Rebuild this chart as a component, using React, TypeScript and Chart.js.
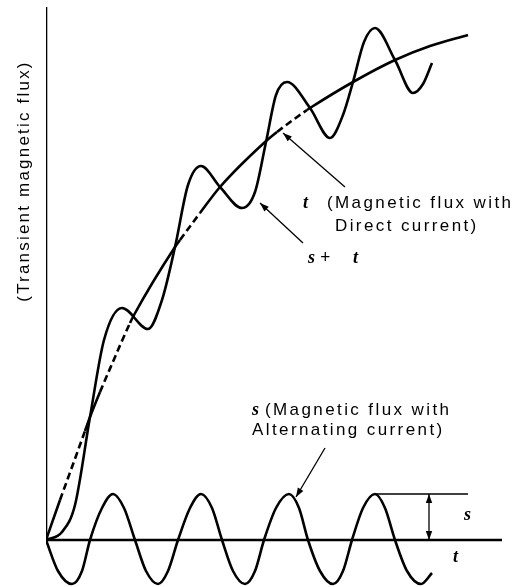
import { useEffect, useRef } from "react";
import { Chart, registerables } from "chart.js";

Chart.register(...registerables);

// Time axis (arbitrary units) and flux values
const acX = [0, 12, 26, 36, 44, 56, 67, 78, 89, 100, 112, 122, 132, 144, 155, 166, 176, 187, 199, 209, 218, 230, 243, 253, 262, 274, 287, 297, 306, 317, 329, 339, 349, 361, 375, 386];
const acY = [0, -31, -44, -31, 0, 32, 46, 32, 0, -31, -44, -31, 0, 32, 46, 32, 0, -31, -44, -31, 0, 32, 46, 32, 0, -31, -44, -31, 0, 32, 46, 32, 0, -31, -44, -33];

const dcX = [0, 14, 22, 39, 44, 54, 66, 84, 88, 129, 134, 154, 174, 219, 231, 261, 264, 307, 349, 384, 422];
const dcY = [0, 40, 62, 109, 123, 148, 176, 217, 225, 293, 300, 327, 353, 398, 408, 430, 432, 458, 480, 494, 505];

const sumX = [0, 16, 29, 44, 58, 76, 102, 116, 129, 142, 155, 174, 196, 209, 220, 230, 241, 264, 284, 297, 307, 318, 329, 349, 367, 377, 386];
const sumY = [0, 8, 35, 123, 200, 232, 211, 240, 293, 355, 374, 353, 332, 348, 398, 445, 458, 432, 402, 425, 458, 498, 512, 480, 447, 456, 477];

// portions of the DC curve drawn dashed (x ranges)
const dcDashed = [[14, 39], [54, 84], [134, 154], [231, 261]];

const axisXmax = 456;
const axisYmax = 533;
const acPeak = 46;

const toPts = (xs: number[], ys: number[]) => xs.map((x, i) => ({ x, y: ys[i] }));

const SANS = '"Liberation Sans", Arial, Helvetica, sans-serif';
const SERIF = '"Liberation Serif", "Times New Roman", serif';

type Arrow = { from: [number, number]; to: [number, number]; both?: boolean };
const arrows: Arrow[] = [
  { from: [299, 353], to: [237, 407] },
  { from: [257, 297], to: [214, 337] },
  { from: [279, 92], to: [250, 43] },
  { from: [383, acPeak], to: [383, 0], both: true },
];

type Label = { text: string; x: number; y: number; italic?: boolean };
const labels: Label[] = [
  { text: "t", x: 257, y: 337, italic: true },
  { text: "(Magnetic flux with", x: 281, y: 337 },
  { text: "Direct current)", x: 289, y: 314 },
  { text: "s", x: 262, y: 282, italic: true },
  { text: "+", x: 274, y: 282, italic: true },
  { text: "t", x: 307, y: 282, italic: true },
  { text: "s", x: 206, y: 130, italic: true },
  { text: "(Magnetic flux with", x: 219, y: 130 },
  { text: "Alternating current)", x: 206, y: 110 },
  { text: "s", x: 418, y: 25, italic: true },
  { text: "t", x: 407, y: -17, italic: true },
];

const annotPlugin = {
  id: "annot",
  afterDatasetsDraw(chart: any) {
    const ctx: CanvasRenderingContext2D = chart.ctx;
    const xs = chart.scales.x;
    const ys = chart.scales.y;
    const px = (v: number) => xs.getPixelForValue(v);
    const py = (v: number) => ys.getPixelForValue(v);
    ctx.save();
    ctx.strokeStyle = "#000";
    ctx.fillStyle = "#000";

    // peak reference line
    ctx.lineWidth = 1.6;
    ctx.beginPath();
    ctx.moveTo(px(329), py(acPeak));
    ctx.lineTo(px(422), py(acPeak));
    ctx.stroke();

    const head = (x1: number, y1: number, x2: number, y2: number) => {
      const a = Math.atan2(y2 - y1, x2 - x1);
      const L = 9, W = 3.2;
      ctx.beginPath();
      ctx.moveTo(x2, y2);
      ctx.lineTo(x2 - L * Math.cos(a) + W * Math.sin(a), y2 - L * Math.sin(a) - W * Math.cos(a));
      ctx.lineTo(x2 - L * Math.cos(a) - W * Math.sin(a), y2 - L * Math.sin(a) + W * Math.cos(a));
      ctx.closePath();
      ctx.fill();
    };
    ctx.lineWidth = 1.3;
    arrows.forEach((a) => {
      const x1 = px(a.from[0]), y1 = py(a.from[1]);
      const x2 = px(a.to[0]), y2 = py(a.to[1]);
      ctx.beginPath();
      ctx.moveTo(x1, y1);
      ctx.lineTo(x2, y2);
      ctx.stroke();
      head(x1, y1, x2, y2);
      if (a.both) head(x2, y2, x1, y1);
    });

    // texts
    ctx.textBaseline = "middle";
    ctx.textAlign = "left";
    labels.forEach((l) => {
      if (l.italic) {
        ctx.font = `italic bold 18px ${SERIF}`;
        (ctx as any).letterSpacing = "0px";
      } else {
        ctx.font = `17px ${SANS}`;
        (ctx as any).letterSpacing = "2.4px";
      }
      ctx.fillText(l.text, px(l.x), py(l.y));
    });

    // y-axis title
    ctx.save();
    ctx.translate(px(-22), py(359));
    ctx.rotate(-Math.PI / 2);
    ctx.textAlign = "center";
    ctx.font = `17px ${SANS}`;
    (ctx as any).letterSpacing = "2.2px";
    ctx.fillText("(Transient magnetic flux)", 0, 0);
    ctx.restore();

    ctx.restore();
  },
};

export default function App() {
  const ref = useRef<HTMLCanvasElement>(null);
  useEffect(() => {
    if (!ref.current) return;
    const isDashed = (a: number, b: number) =>
      dcDashed.some(([s, e]) => a >= s && b <= e);
    const chart = new Chart(ref.current, {
      type: "line",
      data: {
        datasets: [
          {
            data: [{ x: 0, y: axisYmax }, { x: 0, y: 0 }, { x: axisXmax, y: 0 }],
            borderColor: "#000",
            borderWidth: 2.6,
            tension: 0,
            pointRadius: 0,
          },
          {
            data: toPts(acX, acY),
            borderColor: "#000",
            borderWidth: 2.6,
            cubicInterpolationMode: "monotone",
            pointRadius: 0,
          },
          {
            data: toPts(dcX, dcY),
            borderColor: "#000",
            borderWidth: 2.6,
            cubicInterpolationMode: "monotone",
            pointRadius: 0,
            segment: {
              borderDash: (c: any) => (isDashed(c.p0.parsed.x, c.p1.parsed.x) ? [7, 4] : undefined),
            },
          },
          {
            data: toPts(sumX, sumY),
            borderColor: "#000",
            borderWidth: 2.6,
            cubicInterpolationMode: "monotone",
            pointRadius: 0,
          },
        ] as any,
      },
      options: {
        animation: false,
        responsive: false,
        maintainAspectRatio: false,
        events: [],
        layout: { padding: { left: 46, right: 19, top: 7, bottom: 0 } },
        plugins: { legend: { display: false }, tooltip: { enabled: false } },
        scales: {
          x: { type: "linear", min: 0, max: axisXmax, display: false },
          y: { type: "linear", min: -47, max: axisYmax, display: false },
        },
      },
      plugins: [annotPlugin],
    });
    return () => chart.destroy();
  }, []);
  return (
    <div style={{ position: "absolute", left: 0, top: 0, width: 521, height: 587, background: "#fff" }}>
      <canvas ref={ref} width={521} height={587} style={{ display: "block", width: 521, height: 587 }} />
    </div>
  );
}
